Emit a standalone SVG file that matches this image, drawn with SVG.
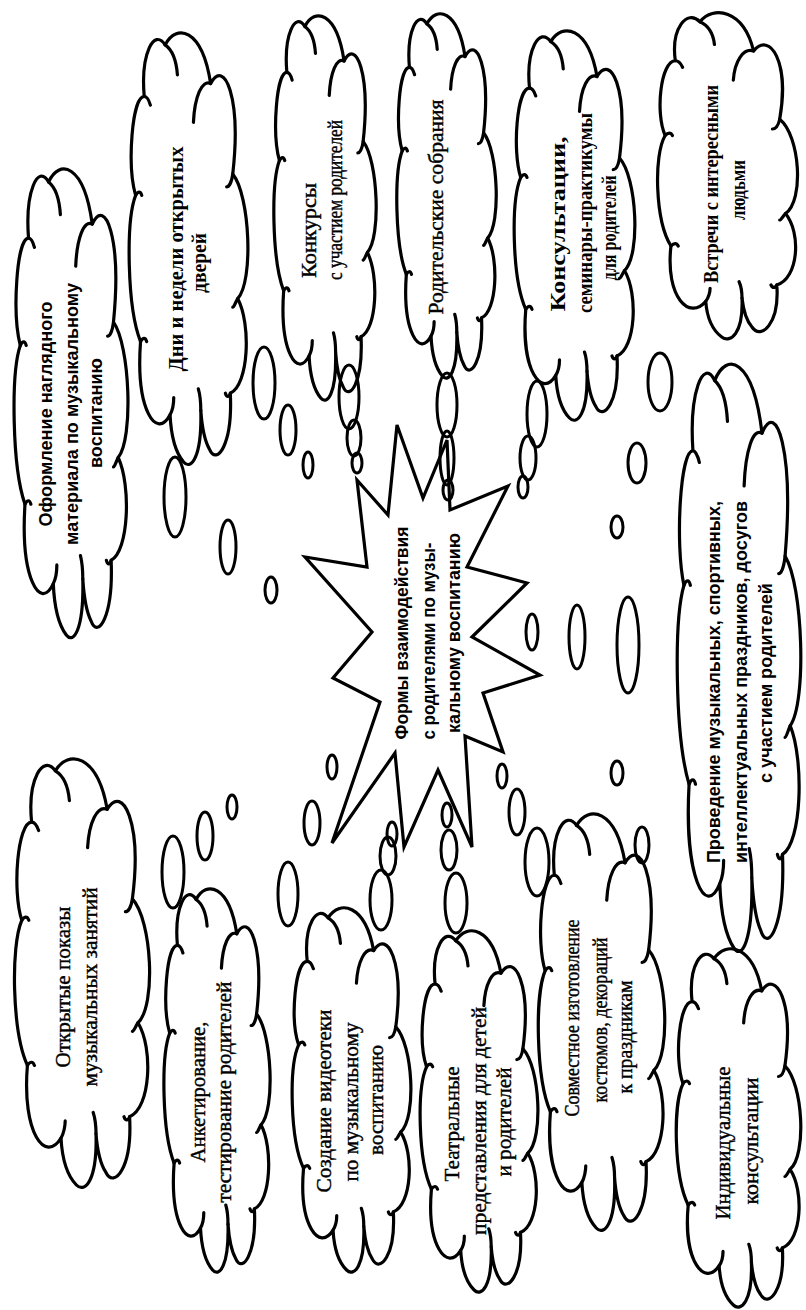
<svg xmlns="http://www.w3.org/2000/svg" xmlns:xlink="http://www.w3.org/1999/xlink" width="806" height="1310" viewBox="0 0 806 1310">
<style>
.cl{fill:none;stroke:#000;stroke-width:3.2;vector-effect:non-scaling-stroke;stroke-linecap:round;stroke-linejoin:round}
.bub{fill:none;stroke:#000;stroke-width:3}
.star{fill:none;stroke:#000;stroke-width:3.2;stroke-linejoin:miter}
.s{font-family:"Liberation Serif","Times New Roman",serif;font-size:20px;fill:#000;stroke:#000;stroke-width:0.4}
.sb{font-family:"Liberation Serif","Times New Roman",serif;font-size:20px;font-weight:bold;fill:#000}
.a{font-family:"Liberation Sans",Arial,sans-serif;font-size:18px;font-weight:bold;fill:#000}
</style>
<defs>
<g id="cloud">
<path class="cl" d="M14,15 C11,5 22,-1 31,3 C40,-2 61,-1 68,12 C79,6 93,15 86,33 C100,38 103,58 90,62 C101,68 99,82 84,84 C86,96 73,101 67,97 C63,95 61,92 60,88 C61,99 52,102 46,100 C40,98 36,95 35,89 C24,95 7,88 11,72 C0,64 -1,44 7,38 C0,31 4,15 14,15 Z"/>
<path class="cl" d="M31,3 C36,4 40,6 41,10 M68,12 C61,11 55,15 54,21 M86,33 C85,35 83,36 81,36 M90,62 C88,63 87,64 86,64 M84,84 C83,85 81,85 80,84 M60,88 C60,86 59,84 58,83 M35,89 C37,88 38,86 38,85 M11,72 C13,71 15,71 16,72 M7,38 C9,37 11,37 12,38 M14,15 C16,15 18,16 19,17"/>
</g>
</defs>
<rect width="806" height="1310" fill="#fff"/>

<g id="connectors">
<ellipse class="bub" cx="175" cy="497" rx="11" ry="40"/>
<ellipse class="bub" cx="228" cy="547" rx="8" ry="27"/>
<ellipse class="bub" cx="264" cy="383" rx="11" ry="36"/>
<ellipse class="bub" cx="288" cy="430" rx="8" ry="25"/>
<ellipse class="bub" cx="308" cy="465" rx="5" ry="13"/>
<ellipse class="bub" cx="271" cy="590" rx="6" ry="13"/>
<ellipse class="bub" cx="349" cy="397" rx="10" ry="32"/>
<ellipse class="bub" cx="354" cy="438" rx="7" ry="18"/>
<ellipse class="bub" cx="357" cy="463" rx="5" ry="10"/>
<ellipse class="bub" cx="447" cy="405" rx="10" ry="32"/>
<ellipse class="bub" cx="447" cy="458" rx="7" ry="27"/>
<ellipse class="bub" cx="448" cy="490" rx="5" ry="10"/>
<ellipse class="bub" cx="537" cy="414" rx="10" ry="33"/>
<ellipse class="bub" cx="528" cy="458" rx="8" ry="22"/>
<ellipse class="bub" cx="523" cy="487" rx="5" ry="11"/>
<ellipse class="bub" cx="660" cy="382" rx="12" ry="29"/>
<ellipse class="bub" cx="637" cy="463" rx="9" ry="20"/>
<ellipse class="bub" cx="617" cy="527" rx="6" ry="11"/>
<ellipse class="bub" cx="532" cy="632" rx="6" ry="18"/>
<ellipse class="bub" cx="577" cy="637" rx="8" ry="32"/>
<ellipse class="bub" cx="628" cy="645" rx="11" ry="48"/>
<ellipse class="bub" cx="617" cy="773" rx="6" ry="12"/>
<ellipse class="bub" cx="642" cy="845" rx="7" ry="18"/>
<ellipse class="bub" cx="332" cy="767" rx="5" ry="12"/>
<ellipse class="bub" cx="312" cy="823" rx="8" ry="22"/>
<ellipse class="bub" cx="288" cy="894" rx="10" ry="32"/>
<ellipse class="bub" cx="232" cy="807" rx="5" ry="12"/>
<ellipse class="bub" cx="205" cy="836" rx="8" ry="24"/>
<ellipse class="bub" cx="173" cy="872" rx="11" ry="36"/>
<ellipse class="bub" cx="392" cy="834" rx="5" ry="12"/>
<ellipse class="bub" cx="388" cy="856" rx="8" ry="19"/>
<ellipse class="bub" cx="381" cy="900" rx="11" ry="30"/>
<ellipse class="bub" cx="447" cy="815" rx="5" ry="12"/>
<ellipse class="bub" cx="449" cy="850" rx="8" ry="20"/>
<ellipse class="bub" cx="456" cy="903" rx="11" ry="30"/>
<ellipse class="bub" cx="502" cy="776" rx="5" ry="12"/>
<ellipse class="bub" cx="517" cy="812" rx="8" ry="23"/>
<ellipse class="bub" cx="537" cy="862" rx="12" ry="34"/>
</g>

<g id="center">
<polygon class="star" points="357,480 388,515 397,425 423,498 447,440 450,510 508,486 467,567 527,583 472,637 540,675 483,693 503,752 465,736 472,847 438,770 404,847 395,753 332,843 380,702 333,678 372,632 305,557 367,567"/>
<text class="a" x="402" y="633" transform="rotate(-90 402 633)" text-anchor="middle" dominant-baseline="central" textLength="213" lengthAdjust="spacingAndGlyphs">Формы взаимодействия</text>
<text class="a" x="429" y="641" transform="rotate(-90 429 641)" text-anchor="middle" dominant-baseline="central" textLength="197" lengthAdjust="spacingAndGlyphs">с родителями по музы-</text>
<text class="a" x="454" y="633" transform="rotate(-90 454 633)" text-anchor="middle" dominant-baseline="central" textLength="200" lengthAdjust="spacingAndGlyphs">кальному воспитанию</text>
</g>

<g id="node-oformlenie">
<use xlink:href="#cloud" transform="translate(12 168) scale(1.18 4.67)"/>
<text class="a" x="46" y="414" transform="rotate(-90 46 414)" text-anchor="middle" dominant-baseline="central" textLength="225" lengthAdjust="spacingAndGlyphs">Оформление наглядного</text>
<text class="a" x="72" y="414" transform="rotate(-90 72 414)" text-anchor="middle" dominant-baseline="central" textLength="262" lengthAdjust="spacingAndGlyphs">материала по музыкальному</text>
<text class="a" x="96" y="413" transform="rotate(-90 96 413)" text-anchor="middle" dominant-baseline="central" textLength="110" lengthAdjust="spacingAndGlyphs">воспитанию</text>
</g>

<g id="node-dni">
<use xlink:href="#cloud" transform="translate(127 32) scale(1.23 4.30)"/>
<text class="sb" x="176" y="259" transform="rotate(-90 176 259)" text-anchor="middle" dominant-baseline="central" textLength="225" lengthAdjust="spacingAndGlyphs">Дни и недели открытых</text>
<text class="sb" x="199" y="263" transform="rotate(-90 199 263)" text-anchor="middle" dominant-baseline="central" textLength="60" lengthAdjust="spacingAndGlyphs">дверей</text>
</g>

<g id="node-konkursy">
<use xlink:href="#cloud" transform="translate(272 15) scale(1.06 3.83)"/>
<text class="s" x="309" y="278" transform="rotate(-90 309 278)" dominant-baseline="central" textLength="95" lengthAdjust="spacingAndGlyphs">Конкурсы</text>
<text class="s" x="335" y="280" transform="rotate(-90 335 280)" dominant-baseline="central" textLength="160" lengthAdjust="spacingAndGlyphs">с участием родителей</text>
</g>

<g id="node-sobrania">
<use xlink:href="#cloud" transform="translate(395 13) scale(1.03 3.63)"/>
<text class="s" x="436" y="207" transform="rotate(-90 436 207)" text-anchor="middle" dominant-baseline="central" textLength="215" lengthAdjust="spacingAndGlyphs">Родительские собрания</text>
</g>

<g id="node-konsultacii">
<use xlink:href="#cloud" transform="translate(512 30) scale(1.25 3.88)"/>
<text class="sb" x="558" y="224" transform="rotate(-90 558 224)" text-anchor="middle" dominant-baseline="central" textLength="175" lengthAdjust="spacingAndGlyphs">Консультации,</text>
<text class="sb" x="585" y="213" transform="rotate(-90 585 213)" text-anchor="middle" dominant-baseline="central" textLength="200" lengthAdjust="spacingAndGlyphs">семинары-практикумы</text>
<text class="sb" x="609" y="228" transform="rotate(-90 609 228)" text-anchor="middle" dominant-baseline="central" textLength="105" lengthAdjust="spacingAndGlyphs">для родителей</text>
</g>

<g id="node-vstrechi">
<use xlink:href="#cloud" transform="translate(655 12) scale(1.45 3.25)"/>
<text class="sb" x="711" y="184" transform="rotate(-90 711 184)" text-anchor="middle" dominant-baseline="central" textLength="198" lengthAdjust="spacingAndGlyphs">Встречи с интересными</text>
<text class="sb" x="738" y="190" transform="rotate(-90 738 190)" text-anchor="middle" dominant-baseline="central" textLength="60" lengthAdjust="spacingAndGlyphs">людьми</text>
</g>

<g id="node-provedenie">
<use xlink:href="#cloud" transform="translate(675 363) scale(1.28 5.85)"/>
<text class="a" x="714" y="682" transform="rotate(-90 714 682)" text-anchor="middle" dominant-baseline="central" textLength="362" lengthAdjust="spacingAndGlyphs">Проведение музыкальных, спортивных,</text>
<text class="a" x="741" y="682" transform="rotate(-90 741 682)" text-anchor="middle" dominant-baseline="central" textLength="362" lengthAdjust="spacingAndGlyphs">интеллектуальных праздников, досугов</text>
<text class="a" x="766" y="683" transform="rotate(-90 766 683)" text-anchor="middle" dominant-baseline="central" textLength="200" lengthAdjust="spacingAndGlyphs">с участием родителей</text>
</g>

<g id="node-pokazy">
<use xlink:href="#cloud" transform="translate(12 758) scale(1.40 4.27)"/>
<text class="s" x="63" y="987" transform="rotate(-90 63 987)" text-anchor="middle" dominant-baseline="central" textLength="161" lengthAdjust="spacingAndGlyphs">Открытые показы</text>
<text class="s" x="90" y="987" transform="rotate(-90 90 987)" text-anchor="middle" dominant-baseline="central" textLength="199" lengthAdjust="spacingAndGlyphs">музыкальных занятий</text>
</g>

<g id="node-anketirovanie">
<use xlink:href="#cloud" transform="translate(162 888) scale(1.10 3.82)"/>
<text class="s" x="198" y="1092" transform="rotate(-90 198 1092)" text-anchor="middle" dominant-baseline="central" textLength="141" lengthAdjust="spacingAndGlyphs">Анкетирование,</text>
<text class="s" x="224" y="1092" transform="rotate(-90 224 1092)" text-anchor="middle" dominant-baseline="central" textLength="221" lengthAdjust="spacingAndGlyphs">тестирование родителей</text>
</g>

<g id="node-videoteka">
<use xlink:href="#cloud" transform="translate(290 907) scale(1.23 3.63)"/>
<text class="s" x="324" y="1101" transform="rotate(-90 324 1101)" text-anchor="middle" dominant-baseline="central" textLength="183" lengthAdjust="spacingAndGlyphs">Создание видеотеки</text>
<text class="s" x="351" y="1102" transform="rotate(-90 351 1102)" text-anchor="middle" dominant-baseline="central" textLength="159" lengthAdjust="spacingAndGlyphs">по музыкальному</text>
<text class="s" x="376" y="1100" transform="rotate(-90 376 1100)" text-anchor="middle" dominant-baseline="central" textLength="110" lengthAdjust="spacingAndGlyphs">воспитанию</text>
</g>

<g id="node-teatr">
<use xlink:href="#cloud" transform="translate(418 930) scale(1.22 3.60)"/>
<text class="s" x="452" y="1124" transform="rotate(-90 452 1124)" text-anchor="middle" dominant-baseline="central" textLength="115" lengthAdjust="spacingAndGlyphs">Театральные</text>
<text class="s" x="479" y="1121" transform="rotate(-90 479 1121)" text-anchor="middle" dominant-baseline="central" textLength="228" lengthAdjust="spacingAndGlyphs">представления для детей</text>
<text class="s" x="504" y="1122" transform="rotate(-90 504 1122)" text-anchor="middle" dominant-baseline="central" textLength="109" lengthAdjust="spacingAndGlyphs">и родителей</text>
</g>

<g id="node-kostyumy">
<use xlink:href="#cloud" transform="translate(536 813) scale(1.31 4.15)"/>
<text class="s" x="572" y="1018" transform="rotate(-90 572 1018)" text-anchor="middle" dominant-baseline="central" textLength="197" lengthAdjust="spacingAndGlyphs">Совместное изготовление</text>
<text class="s" x="600" y="1020" transform="rotate(-90 600 1020)" text-anchor="middle" dominant-baseline="central" textLength="165" lengthAdjust="spacingAndGlyphs">костюмов, декораций</text>
<text class="s" x="625" y="1037" transform="rotate(-90 625 1037)" text-anchor="middle" dominant-baseline="central" textLength="113" lengthAdjust="spacingAndGlyphs">к праздникам</text>
</g>

<g id="node-individ">
<use xlink:href="#cloud" transform="translate(674 948) scale(1.29 3.57)"/>
<text class="s" x="723" y="1143" transform="rotate(-90 723 1143)" text-anchor="middle" dominant-baseline="central" textLength="153" lengthAdjust="spacingAndGlyphs">Индивидуальные</text>
<text class="s" x="751" y="1141" transform="rotate(-90 751 1141)" text-anchor="middle" dominant-baseline="central" textLength="127" lengthAdjust="spacingAndGlyphs">консультации</text>
</g>
</svg>
